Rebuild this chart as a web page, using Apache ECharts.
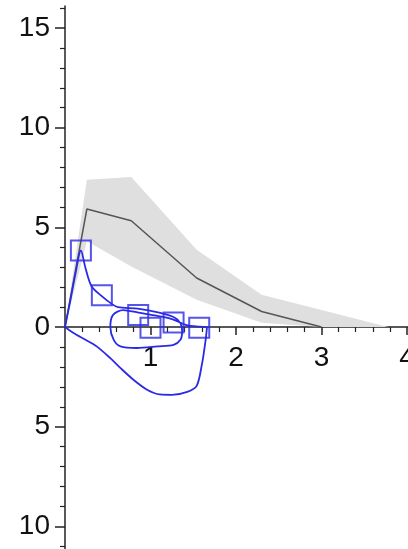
<!DOCTYPE html>
<html>
<head>
<meta charset="utf-8">
<script src="https://cdn.jsdelivr.net/npm/echarts@6/dist/echarts.min.js"></script>
<style>
html,body{margin:0;padding:0;background:#fff;}
#c{width:408px;height:549px;}
</style>
</head>
<body>
<div id="c"></div>
<script>
// ---- data ----
const meanX = [0, 0.256, 0.775, 1.54, 2.30, 3.0];
const meanY = [0, 5.92, 5.33, 2.46, 0.78, 0];
const bandX = [0, 0.256, 0.775, 1.54, 2.30, 3.0, 3.78];
const bandUpper = [0, 7.39, 7.52, 3.88, 1.62, 0.85, 0];
const bandLower = [0, 4.30, 3.04, 1.37, 0.22, 0, 0];
const trajX = [0, 0.06, 0.12, 0.186, 0.24, 0.31, 0.43, 0.55, 0.62, 0.85, 1.1, 1.28, 1.35, 1.37, 1.35, 1.27, 1.08, 0.84, 0.65, 0.57, 0.53, 0.56, 0.68, 0.86, 1.05, 1.25, 1.42, 1.57, 1.66, 1.64, 1.60, 1.54, 1.43, 1.25, 1.11, 0.96, 0.80, 0.65, 0.53, 0.37, 0.24, 0.10, 0];
const trajY = [0, 1.28, 2.62, 3.84, 2.95, 2.05, 1.55, 1.15, 1.0, 0.92, 0.72, 0.48, 0.2, -0.22, -0.64, -0.89, -0.97, -1.05, -0.97, -0.64, 0.0, 0.6, 0.85, 0.72, 0.58, 0.4, 0.1, 0.02, 0.0, -0.8, -1.90, -2.95, -3.25, -3.40, -3.38, -3.14, -2.64, -2.06, -1.56, -0.97, -0.64, -0.3, 0];
const markX = [0.186, 0.431, 0.856, 1.0, 1.27, 1.57];
const markY = [3.84, 1.59, 0.60, -0.04, 0.23, -0.04];
const yMajorTicks = [-10, -5, 0, 5, 10, 15];
const yMinorTicks = [-11, -9, -8, -7, -6, -4, -3, -2, -1, 1, 2, 3, 4, 6, 7, 8, 9, 11, 12, 13, 14, 16];
const xMajorTicks = [1, 2, 3, 4];
const xMinorTicks = [0.2, 0.4, 0.6, 0.8, 1.2, 1.4, 1.6, 1.8, 2.2, 2.4, 2.6, 2.8, 3.2, 3.4, 3.6, 3.8];

const blue = '#2a2ae6';
const axisColor = '#222';
const font = '"Liberation Sans", Arial, sans-serif';
const X_MIN = 0, X_MAX = 4.012, Y_MIN = -11.13, Y_MAX = 16.1;
const GRID_TOP = 6, GRID_BOTTOM = 0, H = 549;
const plotH = H - GRID_TOP - GRID_BOTTOM;
const zeroOffset = -(plotH * (0 - Y_MIN) / (Y_MAX - Y_MIN));

const chart = echarts.init(document.getElementById('c'), null, {renderer: 'canvas'});
chart.setOption({
  animation: false,
  backgroundColor: '#fff',
  grid: {left: 65, right: 0, top: GRID_TOP, bottom: GRID_BOTTOM, containLabel: false, outerBoundsMode: 'none'},
  xAxis: [{
    type: 'value', min: X_MIN, max: X_MAX, position: 'bottom', offset: zeroOffset,
    axisLine: {show: true, onZero: false, lineStyle: {color: axisColor, width: 1.5}},
    axisTick: {show: true, customValues: xMajorTicks, length: 8, inside: false, lineStyle: {color: axisColor, width: 1.5}},
    axisLabel: {show: true, customValues: xMajorTicks, margin: 17, fontSize: 28, fontFamily: font, color: '#111', hideOverlap: false},
    splitLine: {show: false}
  }, {
    type: 'value', min: X_MIN, max: X_MAX, position: 'bottom', offset: zeroOffset,
    axisLine: {show: false, onZero: false},
    axisTick: {show: true, customValues: xMinorTicks, length: 5, lineStyle: {color: axisColor, width: 1.2}},
    axisLabel: {show: false},
    splitLine: {show: false}
  }],
  yAxis: [{
    type: 'value', min: Y_MIN, max: Y_MAX, position: 'left',
    axisLine: {show: true, onZero: false, lineStyle: {color: axisColor, width: 1.5}},
    axisTick: {show: true, customValues: yMajorTicks, length: 10, lineStyle: {color: axisColor, width: 1.5}},
    axisLabel: {show: true, customValues: yMajorTicks, margin: 15, fontSize: 28, fontFamily: font, color: '#111',
      formatter: v => String(Math.abs(v))},
    splitLine: {show: false}
  }, {
    type: 'value', min: Y_MIN, max: Y_MAX, position: 'left',
    axisLine: {show: false, onZero: false},
    axisTick: {show: true, customValues: yMinorTicks, length: 5, lineStyle: {color: axisColor, width: 1.2}},
    axisLabel: {show: false},
    splitLine: {show: false}
  }],
  series: [{
    type: 'custom',
    silent: true,
    z: 1,
    data: bandX.map((x, i) => [x, bandLower[i], bandUpper[i]]),
    encode: {x: 0, y: [1, 2]},
    renderItem: function (params, api) {
      if (params.dataIndex !== 0) return;
      const pts = [];
      for (let i = 0; i < bandX.length; i++) pts.push(api.coord([bandX[i], bandUpper[i]]));
      for (let i = bandX.length - 1; i >= 0; i--) pts.push(api.coord([bandX[i], bandLower[i]]));
      return {type: 'polygon', shape: {points: pts}, style: {fill: '#dfdfdf'}};
    }
  }, {
    type: 'line',
    silent: true,
    z: 2,
    data: meanX.map((x, i) => [x, meanY[i]]),
    symbol: 'none',
    lineStyle: {color: '#555', width: 1.5}
  }, {
    type: 'line',
    silent: true,
    z: 3,
    data: trajX.map((x, i) => [x, trajY[i]]),
    symbol: 'none',
    smooth: 0.3,
    lineStyle: {color: blue, width: 1.8}
  }, {
    type: 'scatter',
    silent: true,
    z: 4,
    data: markX.map((x, i) => [x, markY[i]]),
    symbol: 'rect',
    symbolSize: 20,
    itemStyle: {color: 'rgba(0,0,0,0)', borderColor: blue, borderWidth: 2}
  }]
});
</script>
</body>
</html>
